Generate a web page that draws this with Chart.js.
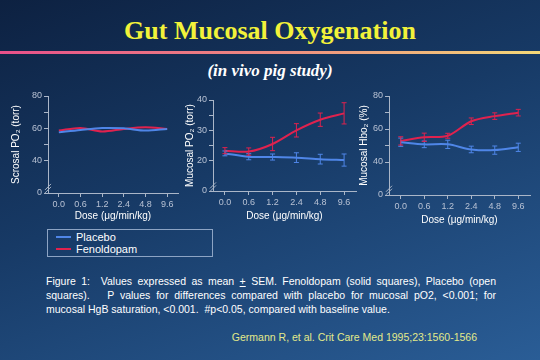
<!DOCTYPE html>
<html>
<head>
<meta charset="utf-8">
<script src="https://cdn.jsdelivr.net/npm/chart.js@4"></script>
<style>
    html, body { margin: 0; padding: 0; }
    body {
        width: 540px; height: 360px; overflow: hidden; position: relative;
        background: linear-gradient(160deg, #0d2141 0%, #173a66 45%, #2a5d96 100%);
        font-family: "Liberation Sans", Arial, sans-serif;
    }
    .title {
        position: absolute; left: 0; width: 540px; top: 16px; text-align: center;
        font-family: "Liberation Serif", "Times New Roman", serif; font-weight: bold;
        font-size: 26px; color: #f2f23a;
    }
    .rule {
        position: absolute; left: 0; width: 540px; top: 51px; height: 3px;
        background: linear-gradient(90deg, #e8508a 0%, #ee8a80 50%, #f4d878 100%);
    }
    .subtitle {
        position: absolute; left: 0; width: 540px; top: 61px; text-align: center;
        font-family: "Liberation Serif", "Times New Roman", serif; font-weight: bold;
        font-style: italic; font-size: 17px; color: #ffffff;
    }
    canvas { position: absolute; }
    .legend {
        position: absolute; left: 47px; top: 229px; width: 164px; height: 26px;
        border: 1px solid #8da4c4; color: #ffffff; font-size: 11px;
    }
    .legend .row { position: absolute; left: 0; height: 12px; line-height: 12px; padding-left: 28px; }
    .legend .swatch { position: absolute; left: 8px; top: 5px; width: 15px; height: 2px; }
    .caption {
        position: absolute; left: 46px; top: 274px; width: 450px; color: #ffffff;
        font-size: 10.5px; line-height: 14px; text-align: justify;
    }
    .cite {
        position: absolute; right: 63px; top: 331px; color: #e2ea8a; font-size: 10.5px;
    }
</style>
</head>
<body>
<div class="title">Gut Mucosal Oxygenation</div>
<div class="rule"></div>
<div class="subtitle">(in vivo pig study)</div>

<canvas id="serosalChart" style="left:8px; top:86px;" width="172" height="136"></canvas>
<canvas id="mucosalPoChart" style="left:182px; top:86px;" width="176" height="136"></canvas>
<canvas id="mucosalHbChart" style="left:356px; top:86px;" width="176" height="140"></canvas>

<div class="legend">
    <div class="row" style="top:1px;"><span class="swatch" style="background:#4f86e8;"></span>Placebo</div>
    <div class="row" style="top:13px;"><span class="swatch" style="background:#e0224e;"></span>Fenoldopam</div>
</div>

<div class="caption">Figure 1:&nbsp; Values expressed as mean <u>+</u> SEM. Fenoldopam (solid squares), Placebo (open squares).&nbsp;&nbsp; P values for differences compared with placebo for mucosal pO2, &lt;0.001; for mucosal HgB saturation, &lt;0.001.&nbsp; #p&lt;0.05, compared with baseline value.</div>
<div class="cite">Germann R, et al. Crit Care Med 1995;23:1560-1566</div>

<script>
    // Doses (x categories)
    var doses = ['0.0', '0.6', '1.2', '2.4', '4.8', '9.6'];

    // Serosal PO2 (torr)
    var serosalPlacebo = [57.5, 59, 60.2, 60, 58.6, 59.6];
    var serosalFenoldopam = [58.6, 60.2, 58, 59.6, 60.6, 59.6];

    // Mucosal PO2 (torr)
    var mucosalPoPlacebo = [22.4, 21.3, 21.2, 21, 20.5, 20.2];
    var mucosalPoPlaceboSem = [0.8, 1, 1, 1.6, 1.6, 2];
    var mucosalPoFenoldopam = [23.3, 23, 25.5, 30, 33.5, 35.6];
    var mucosalPoFenoldopamSem = [1, 1.2, 2.2, 2.2, 2.2, 3.5];

    // Mucosal HbO2 (%)
    var mucosalHbPlacebo = [52, 50.7, 50.7, 47.6, 47.2, 48.9];
    var mucosalHbPlaceboSem = [2.5, 2, 2.5, 2, 2.5, 2.5];
    var mucosalHbFenoldopam = [52.8, 55, 55.9, 64.7, 67.8, 69.9];
    var mucosalHbFenoldopamSem = [2.5, 2.5, 1.5, 2, 2, 2];

    var BLUE = '#4f86e8';
    var RED = '#e0224e';
    var AXIS = '#aab6c8';
    var TICK = '#b8c2d4';

    // draws SEM error bars with the chart's scales
    var errorBarPlugin = {
        id: 'errorBars',
        afterDatasetsDraw: function (chart) {
            var ctx = chart.ctx;
            var y = chart.scales.y;
            chart.data.datasets.forEach(function (ds, i) {
                if (!ds.sem) return;
                var meta = chart.getDatasetMeta(i);
                ctx.save();
                ctx.strokeStyle = ds.borderColor;
                ctx.lineWidth = 1;
                meta.data.forEach(function (pt, j) {
                    var top = y.getPixelForValue(ds.data[j] + ds.sem[j]);
                    var bot = y.getPixelForValue(ds.data[j] - ds.sem[j]);
                    ctx.beginPath();
                    ctx.moveTo(pt.x, top); ctx.lineTo(pt.x, bot);
                    ctx.moveTo(pt.x - 2.5, top); ctx.lineTo(pt.x + 2.5, top);
                    ctx.moveTo(pt.x - 2.5, bot); ctx.lineTo(pt.x + 2.5, bot);
                    ctx.stroke();
                });
                ctx.restore();
            });
        }
    };

    // small "//" break mark on the y axis
    var axisBreakPlugin = {
        id: 'axisBreak',
        afterDraw: function (chart) {
            var y = chart.scales.y;
            var ctx = chart.ctx;
            var x0 = chart.chartArea.left;
            var by = (y.getPixelForValue(y.min) + y.getPixelForValue(y.min + (y.max - y.min) / 6)) / 2 + 2;
            ctx.save();
            ctx.strokeStyle = AXIS;
            ctx.lineWidth = 1;
            ctx.beginPath();
            ctx.moveTo(x0 - 3, by + 3); ctx.lineTo(x0 + 3, by - 3);
            ctx.moveTo(x0 - 3, by + 6); ctx.lineTo(x0 + 3, by);
            ctx.stroke();
            ctx.restore();
        }
    };

    function makeChart(id, opt) {
        var datasets = [
            { label: 'Placebo', data: opt.placebo, sem: opt.placeboSem, borderColor: BLUE, borderWidth: 2 },
            { label: 'Fenoldopam', data: opt.fenoldopam, sem: opt.fenoldopamSem, borderColor: RED, borderWidth: 2 }
        ];
        datasets.forEach(function (d) { d.pointRadius = 0; d.tension = 0.3; d.fill = false; });
        var majorStep = opt.major;
        return new Chart(document.getElementById(id).getContext('2d'), {
            type: 'line',
            data: { labels: doses, datasets: datasets },
            plugins: [errorBarPlugin, axisBreakPlugin],
            options: {
                responsive: false,
                animation: false,
                events: [],
                layout: { padding: { top: opt.padTop, right: 2, left: 0, bottom: 0 } },
                plugins: { legend: { display: false }, tooltip: { enabled: false } },
                scales: {
                    x: {
                        offset: true,
                        grid: { display: true, drawOnChartArea: false, offset: false, tickLength: 4, color: AXIS },
                        border: { display: true, color: AXIS },
                        ticks: { color: TICK, font: { size: 9, family: 'Liberation Sans' }, padding: 2, maxRotation: 0 },
                        title: { display: true, text: 'Dose (\u03bcg/min/kg)', color: '#ffffff',
                                 font: { size: 10, family: 'Liberation Sans' }, padding: { top: 0, bottom: 0 } },
                        afterFit: function (s) { s.height = opt.xHeight; }
                    },
                    y: {
                        min: opt.min, max: opt.max,
                        afterBuildTicks: function (s) {
                            var t = [];
                            for (var v = opt.min; v <= opt.max; v += opt.minor) t.push({ value: v });
                            s.ticks = t;
                        },
                        grid: {
                            display: true, drawOnChartArea: false, tickLength: 4,
                            color: function (c) {
                                var v = c.tick ? c.tick.value : null;
                                if (v === opt.min + opt.minor) return 'rgba(0,0,0,0)';
                                return AXIS;
                            }
                        },
                        border: { display: true, color: AXIS },
                        ticks: {
                            color: TICK, font: { size: 9, family: 'Liberation Sans' }, padding: 2,
                            callback: function (v) {
                                if (v === opt.min) return '0';
                                if ((v - opt.min) % majorStep === 0 && v !== opt.min + opt.minor) return String(v);
                                return '';
                            }
                        },
                        title: { display: true, text: opt.yTitle, color: '#ffffff',
                                 font: { size: 10, family: 'Liberation Sans' }, padding: { top: 2, bottom: 0 } },
                        afterFit: function (s) { s.width = opt.yWidth; }
                    }
                }
            }
        });
    }

    makeChart('serosalChart', {
        placebo: serosalPlacebo, fenoldopam: serosalFenoldopam,
        min: 20, max: 80, minor: 10, major: 20, yTitle: 'Scrosal PO\u2082 (torr)',
        padTop: 10, yWidth: 40, xHeight: 29
    });
    makeChart('mucosalPoChart', {
        placebo: mucosalPoPlacebo, placeboSem: mucosalPoPlaceboSem,
        fenoldopam: mucosalPoFenoldopam, fenoldopamSem: mucosalPoFenoldopamSem,
        min: 10, max: 40, minor: 5, major: 10, yTitle: 'Mucosal PO\u2082 (torr)',
        padTop: 14, yWidth: 31, xHeight: 31
    });
    makeChart('mucosalHbChart', {
        placebo: mucosalHbPlacebo, placeboSem: mucosalHbPlaceboSem,
        fenoldopam: mucosalHbFenoldopam, fenoldopamSem: mucosalHbFenoldopamSem,
        min: 20, max: 80, minor: 10, major: 20, yTitle: 'Mucosal Hbo\u2082 (%)',
        padTop: 10, yWidth: 33, xHeight: 31
    });
</script>
</body>
</html>
